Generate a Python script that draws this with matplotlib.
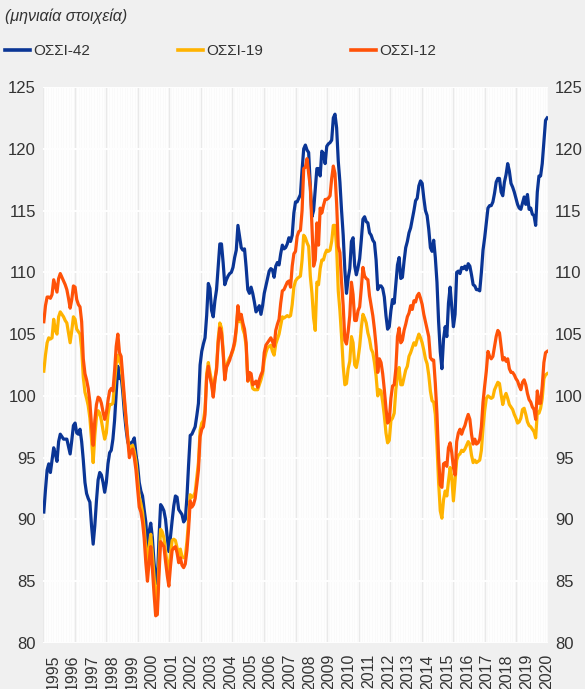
import numpy as np
import matplotlib
matplotlib.use("Agg")
import matplotlib.pyplot as plt
from matplotlib.lines import Line2D

plt.rcParams['font.family'] = ['Liberation Sans', 'DejaVu Sans']

# Monthly data, Jan 1995 - Jul 2020
years = list(range(1995, 2021))
labels = ["ΟΣΣΙ-42", "ΟΣΣΙ-19", "ΟΣΣΙ-12"]
subtitle = "(μηνιαία στοιχεία)"

ossi42 = [
    90.6, 92.4, 94.0, 94.5, 93.8, 94.8, 95.8, 95.3, 94.7, 96.3, 96.9, 96.7,
    96.5, 96.5, 96.5, 95.9, 95.3, 96.4, 97.6, 97.8, 97.0, 96.9, 97.3, 96.3,
    94.8, 93.0, 92.1, 91.7, 91.4, 89.5, 88.0, 89.5, 91.5, 93.2, 93.8, 93.6,
    93.0, 92.2, 93.0, 94.5, 95.4, 95.6, 96.5, 98.0, 100.2, 102.4, 101.4, 101.6,
    100.3, 98.6, 97.3, 96.3, 95.9, 96.2, 96.3, 96.6, 95.3, 94.4, 93.0, 92.3,
    91.9, 90.8, 89.8, 87.8, 89.0, 89.7, 88.5, 86.5, 85.2, 84.8, 88.5, 91.2,
    91.0, 90.7, 90.0, 88.6, 87.4, 88.6, 89.9, 91.1, 91.9, 91.8, 90.8, 90.6,
    90.4, 89.8, 90.0, 91.8, 94.4, 96.8, 96.9, 97.2, 97.5, 98.4, 99.4, 102.5,
    103.6, 104.2, 104.7, 106.5, 109.1, 108.7, 106.9, 106.4, 107.7, 108.6, 110.5, 112.3,
    112.3, 110.8, 109.0, 109.4, 109.7, 109.9, 110.0, 110.4, 111.2, 111.8, 113.8, 112.9,
    112.0, 111.8, 111.9, 110.4, 108.6, 108.3, 108.8, 108.3, 107.6, 106.8, 107.0, 107.3,
    106.6, 107.3, 108.3, 108.9, 109.5, 110.1, 110.3, 110.2, 109.6, 110.5, 110.8, 110.6,
    111.5, 112.2, 111.9, 112.0, 112.3, 112.8, 112.5, 113.0, 114.8, 115.7, 115.7, 116.0,
    116.3, 118.3, 120.0, 120.3, 119.9, 119.7, 117.0, 114.5, 115.0, 116.7, 118.4, 118.4,
    117.8, 119.8, 119.6, 118.8, 120.2, 120.4, 120.5, 120.7, 122.5, 122.8, 121.7, 119.0,
    117.3, 115.0, 113.0, 110.2, 108.3, 109.5, 110.3, 112.5, 112.8, 110.5, 109.8, 110.4,
    111.1, 112.6, 114.3, 114.5, 114.1, 114.0, 113.2, 113.0, 112.6, 112.4, 111.0, 108.6,
    108.9, 108.9, 108.7, 108.0, 106.5, 105.4, 105.6, 106.9, 107.8, 107.5, 109.1, 110.6,
    111.2, 109.5, 109.6, 110.9, 112.0, 112.5, 113.2, 113.6, 114.3, 115.0, 115.8, 116.0,
    117.0, 117.4, 117.2, 116.0, 115.0, 114.6, 113.5, 112.0, 111.7, 112.6, 111.2, 109.2,
    106.0, 103.6, 102.2, 104.6, 105.6, 104.8, 107.5, 108.8, 107.2, 105.6, 106.6, 110.0,
    110.1, 109.9, 110.4, 110.3, 110.5, 110.2, 110.7, 110.5, 109.8, 109.0, 108.9, 108.6,
    108.6, 108.5, 110.0, 111.8, 112.8, 114.0, 115.2, 115.4, 115.4, 115.7, 116.4, 117.3,
    117.6, 117.6, 116.5, 116.2, 117.3, 117.9, 118.8, 118.2, 117.2, 116.9, 116.5, 116.0,
    115.5, 115.2, 115.1, 115.6, 116.1, 115.5, 116.3, 115.1, 115.2, 114.7, 114.6, 113.8,
    116.5, 117.8, 117.8, 118.8, 120.6, 122.3, 122.5,
]

ossi19 = [
    102.0, 103.3, 104.3, 104.7, 104.6, 104.7, 106.2, 105.3, 105.0, 106.4, 106.8, 106.6,
    106.4, 106.1, 105.9, 105.1, 104.3, 105.3, 106.4, 106.2, 105.4, 105.2, 105.0, 103.8,
    101.5, 100.3, 99.8, 99.2, 98.2, 96.5, 94.6, 96.8, 98.3, 98.8, 98.6, 98.0,
    97.2, 96.5, 97.0, 98.5, 99.3, 99.3, 99.4, 101.0, 102.6, 103.3, 102.8, 102.5,
    101.0, 99.5, 98.0, 96.7, 95.5, 95.9, 96.0, 95.5, 94.7, 93.3, 91.8, 91.3,
    90.6, 89.3, 87.6, 86.2, 87.8, 88.8, 87.2, 85.4, 83.6, 83.2, 86.5, 89.2,
    89.0, 88.5, 87.4, 86.4, 85.6, 87.2, 88.3, 88.4, 88.3, 87.7, 87.1, 87.6,
    87.0, 86.9, 87.0, 88.2, 89.9, 92.0, 91.8, 91.9, 92.2, 93.4, 94.6, 97.2,
    97.8, 98.0, 98.9, 101.8, 102.7, 101.9, 101.2, 100.1, 101.3, 102.3, 104.6, 105.9,
    105.5, 103.7, 101.6, 102.4, 102.8, 103.1, 103.3, 103.7, 104.2, 105.3, 107.0, 106.0,
    106.3, 105.4, 105.0, 104.0, 101.2, 101.4, 101.3, 100.6, 100.5, 100.5, 100.5, 100.9,
    101.3, 101.8, 102.9, 103.5, 103.9, 104.0, 104.1, 103.6, 103.3, 104.2, 104.6, 105.0,
    105.7, 106.4, 106.3, 106.4, 106.5, 106.4, 106.5, 107.4, 108.8, 109.3, 109.5, 109.6,
    109.7, 111.0, 113.0, 112.8, 112.4, 112.1, 109.7, 108.3, 106.3, 105.3, 109.2, 109.0,
    110.3, 111.0, 111.0, 111.5, 111.8, 111.7, 111.8, 112.5, 113.8, 113.8, 112.0, 108.5,
    106.9, 104.8, 102.4, 100.9, 101.0, 102.2, 102.8, 104.8, 104.3, 102.5, 102.3, 103.0,
    104.0, 105.5, 106.6, 106.3, 105.9, 105.1, 104.6, 103.8, 103.5, 102.7, 101.6, 100.0,
    100.5, 100.4, 99.5, 98.4, 97.0, 96.2, 96.4, 98.0, 98.2, 98.6, 100.5, 101.7,
    102.3, 100.9, 100.9, 101.5, 102.1, 102.4, 103.2, 103.5, 103.9, 104.3, 104.1, 104.6,
    105.0, 104.7, 104.3, 103.7, 103.0, 102.6, 101.7, 100.4, 99.6, 99.5, 98.5, 96.0,
    93.0, 90.7, 90.1, 91.6, 92.3, 91.9, 93.1, 94.2, 93.4, 91.5, 93.2, 94.8,
    95.2, 95.3, 95.6, 95.5, 95.7, 96.0, 96.3, 96.1, 95.2, 94.6, 94.8, 94.6,
    94.7, 94.8, 95.6, 97.4, 98.8, 99.8, 100.0, 99.9, 99.8, 99.9, 100.5, 100.8,
    101.1, 101.0, 100.1, 99.3, 99.9, 100.2, 99.8, 99.3, 99.1, 98.9, 98.5, 98.2,
    97.8, 97.9, 98.2, 98.9, 99.0, 98.5, 97.9, 97.6, 97.5, 97.3, 97.1, 96.6,
    98.7, 98.6, 99.0, 99.8, 101.4, 101.7, 101.8,
]

ossi12 = [
    106.0, 107.3, 108.0, 108.0, 107.9, 108.2, 109.4, 108.9, 108.4, 109.5, 109.9, 109.6,
    109.3, 109.0, 108.6, 107.9, 107.1, 107.8, 108.9, 108.8, 107.8, 107.4, 107.2, 106.0,
    103.0, 101.8, 101.3, 100.6, 99.5, 97.6, 96.0, 98.0, 99.3, 99.9, 99.8, 99.4,
    98.7, 98.1, 98.6, 99.6, 100.4, 100.6, 100.4, 102.0, 104.0, 105.0, 103.5, 103.2,
    101.5, 99.8, 98.2, 96.5, 95.0, 95.5, 95.7, 95.0, 94.0, 92.5, 91.0, 90.6,
    89.8, 88.5, 86.5, 85.0, 86.6, 87.8, 86.0, 84.0, 82.2, 82.3, 85.5, 88.2,
    88.0, 87.8, 86.6, 85.5, 84.6, 86.2, 87.5, 87.7, 87.8, 87.3, 86.5, 86.9,
    86.3, 86.1, 86.4, 87.5, 89.2, 91.5, 91.0, 91.2, 91.7, 92.8, 94.0, 96.7,
    97.3, 97.5, 98.5, 101.5, 102.4, 101.5, 100.9, 99.9, 101.3, 102.1, 104.3, 105.5,
    105.1, 103.5, 101.3, 102.3, 102.6, 102.9, 103.4, 103.8, 104.4, 105.5, 107.3, 106.2,
    106.6, 105.9, 105.4, 104.3, 101.2, 101.9, 101.8, 100.9, 101.0, 101.2, 100.7, 101.3,
    101.7, 102.0, 103.5, 104.1, 104.3, 104.5, 104.7, 104.4, 104.0, 105.3, 105.8, 106.2,
    107.5, 108.5, 108.6, 108.9, 109.2, 109.3, 108.8, 110.5, 111.5, 111.7, 112.9, 113.3,
    113.4, 115.0, 118.4, 118.5, 119.2, 118.0, 116.9, 113.7, 110.5, 111.0, 114.0, 112.2,
    115.2, 114.8, 115.4, 115.9, 115.9, 116.0, 116.2, 117.6, 118.6, 118.0, 115.6, 112.1,
    111.6, 109.2, 107.3, 104.5, 104.2, 105.2, 106.5, 109.2, 108.2, 106.1, 106.1, 106.9,
    107.2, 108.7, 110.4, 109.7, 109.5, 109.4, 108.1, 107.3, 106.5, 105.4, 104.0, 101.9,
    103.0, 102.7, 101.8, 100.5, 99.0, 97.8, 98.0, 99.8, 100.8, 100.9, 102.2, 104.8,
    105.5, 104.3, 104.5, 105.3, 105.8, 106.4, 106.7, 107.3, 107.0, 107.7, 107.6, 108.1,
    108.3, 107.9, 107.4, 106.6, 106.0, 105.4, 104.8, 103.1, 102.9, 102.9, 101.0, 98.5,
    95.0, 92.8, 92.6, 94.5, 94.6, 94.3, 95.8, 96.2, 95.4, 94.2, 93.6, 96.3,
    97.0, 97.3, 96.9, 97.3, 97.6, 98.1, 98.5, 98.1, 96.9, 96.1, 96.5, 96.1,
    96.2, 96.5, 97.5, 99.5, 100.8, 102.0, 103.6, 103.2, 103.0, 103.2, 104.0, 104.8,
    105.3, 105.1, 104.0, 102.9, 103.1, 102.8, 103.0, 102.2, 101.9, 101.9, 101.7, 101.4,
    101.2, 100.8, 100.5, 101.1, 101.3, 100.9, 100.2, 99.7, 99.5, 99.1, 98.9, 98.1,
    100.4, 99.4, 99.4, 100.8, 102.7, 103.5, 103.6,
]

series = [ossi42, ossi19, ossi12]
colors = ["#0a3595", "#ffb300", "#ff5208"]

n = len(ossi42)
months = np.arange(n)

fig = plt.figure(figsize=(5.85, 6.89), dpi=100, facecolor="#f0f0f0")
ax = fig.add_axes([43/585, 1 - 643/689, (548-43)/585, (643-87)/689])
ax.set_facecolor("#fafafa")

# grid
for mm in months:
    ax.axvline(mm, color="white", lw=0.7, zorder=0)
for gx in np.linspace(-0.5, n - 0.5, 17):
    ax.axvline(gx, color="#e9e9e9", lw=1.0, zorder=0.5)
for gy in range(80, 126, 5):
    ax.axhline(gy, color="white", lw=1.4, zorder=0.6)

for s, c in zip(series, colors):
    ax.plot(months, s, color=c, lw=2.3, solid_joinstyle="round", zorder=3)

ax.set_xlim(-0.5, n - 0.5)
ax.set_ylim(80, 125)
ax.set_yticks(range(80, 126, 5))
ax.tick_params(axis="y", length=0, labelsize=12, labelcolor="#333333",
               left=True, right=True, labelleft=True, labelright=True, pad=5)
ax.set_xticks([12 * (y - 1995) + 5.5 for y in years])
ax.set_xticklabels([str(y) for y in years], rotation=90, fontsize=11.5, color="#333333")
ax.tick_params(axis="x", length=0, pad=8)
for sp in ax.spines.values():
    sp.set_visible(False)

# legend
handles = [Line2D([0], [0], color=c, lw=2.6) for c in colors]
fig.legend(handles, labels, ncol=3, loc="center left", bbox_to_anchor=(5/585, 1 - 51/689),
           frameon=False, fontsize=11, handlelength=1.65, handletextpad=0.2,
           columnspacing=5.75, labelcolor="#333333", borderaxespad=0, borderpad=0)

fig.text(5/585, 1 - 16/689, subtitle, fontsize=11.5, style="italic", color="#333333",
         va="center", ha="left")

fig.savefig("out.png", dpi=100, facecolor=fig.get_facecolor())
